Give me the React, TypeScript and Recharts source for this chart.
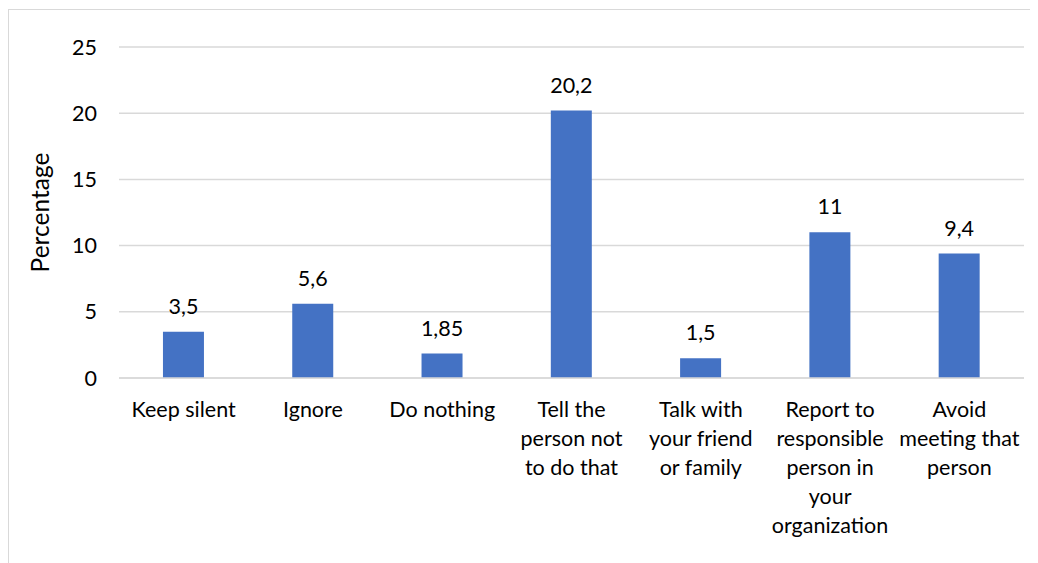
import React from 'react';
import { BarChart, Bar, XAxis, YAxis, CartesianGrid, LabelList, Label } from 'recharts';

const categories = [
  'Keep silent',
  'Ignore',
  'Do nothing',
  'Tell the person not to do that',
  'Talk with your friend or family',
  'Report to responsible person in your organization',
  'Avoid meeting that person',
];

// label lines as they wrap under each bar
const tickLines: string[][] = [
  ['Keep silent'],
  ['Ignore'],
  ['Do nothing'],
  ['Tell the', 'person not', 'to do that'],
  ['Talk with', 'your friend', 'or family'],
  ['Report to', 'responsible', 'person in', 'your', 'organization'],
  ['Avoid', 'meeting that', 'person'],
];

const percentages = [3.5, 5.6, 1.85, 20.2, 1.5, 11, 9.4];
const yTicks = [0, 5, 10, 15, 20, 25];

const data = categories.map((name, i) => ({ name, value: percentages[i], idx: i }));

const FONT = 'Lato, "Open Sans", sans-serif';
const TEXT = '#000000';
const FS = 21.5;

function CategoryTick(props: any) {
  const { x, y, index } = props;
  const lines = tickLines[index] || [];
  return (
    <text x={x} y={y} textAnchor="middle" fill={TEXT} fontFamily={FONT} fontSize={FS}>
      {lines.map((l, i) => (
        <tspan key={i} x={x} dy={i === 0 ? 39 : 29}>
          {l}
        </tspan>
      ))}
    </text>
  );
}

const fmt = (v: any) => String(v).replace('.', ',');

export default function App() {
  return (
    <div style={{ fontFamily: FONT }}>
      <style>{'body{overflow:hidden}'}</style>
      <div
        style={{
          width: 1040,
          height: 560,
          marginTop: 1,
          border: '1px solid #d9d9d9',
          background: '#fff',
        }}
      >
        <BarChart
          width={1040}
          height={560}
          data={data}
          margin={{ top: 37, right: 25, left: 50, bottom: 22 }}
          barCategoryGap="34%"
        >
          <CartesianGrid vertical={false} stroke="#d9d9d9" strokeWidth={1.5} />
          <XAxis
            dataKey="name"
            axisLine={{ stroke: '#d9d9d9', strokeWidth: 1.5 }}
            tickLine={false}
            tickSize={0}
            tickMargin={0}
            interval={0}
            height={170}
            tick={<CategoryTick />}
          />
          <YAxis
            domain={[0, 25]}
            ticks={yTicks}
            axisLine={false}
            tickLine={false}
            tickSize={0}
            tickMargin={22}
            width={60}
            tick={{ fill: TEXT, fontSize: FS, fontFamily: FONT }}
          >
            <Label
              value="Percentage"
              angle={-90}
              position="insideLeft"
              offset={-19}
              style={{ fill: TEXT, fontSize: 24.5, fontFamily: FONT, textAnchor: 'middle' }}
            />
          </YAxis>
          <Bar dataKey="value" fill="#4472C4" isAnimationActive={false}>
            <LabelList
              dataKey="value"
              position="top"
              offset={18}
              formatter={fmt}
              style={{ fill: TEXT, fontSize: FS, fontFamily: FONT }}
            />
          </Bar>
        </BarChart>
      </div>
    </div>
  );
}
